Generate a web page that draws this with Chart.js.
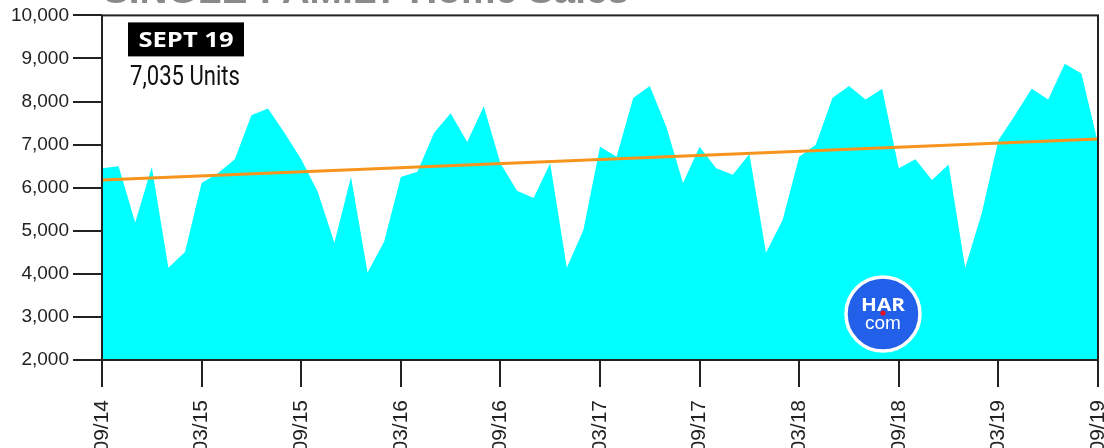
<!DOCTYPE html>
<html>
<head>
<meta charset="utf-8">
<script src="https://cdn.jsdelivr.net/npm/chart.js@4/dist/chart.umd.min.js"></script>
<style>
  html, body { margin: 0; padding: 0; background: #fff; }
  #wrap { width: 1104px; height: 448px; position: relative; }
</style>
</head>
<body>
<div id="wrap"><canvas id="c" width="1104" height="448"></canvas></div>
<script>
// Monthly single-family home sales, Sept 2014 - Sept 2019
const months = [
  '09/14','10/14','11/14','12/14',
  '01/15','02/15','03/15','04/15','05/15','06/15','07/15','08/15','09/15','10/15','11/15','12/15',
  '01/16','02/16','03/16','04/16','05/16','06/16','07/16','08/16','09/16','10/16','11/16','12/16',
  '01/17','02/17','03/17','04/17','05/17','06/17','07/17','08/17','09/17','10/17','11/17','12/17',
  '01/18','02/18','03/18','04/18','05/18','06/18','07/18','08/18','09/18','10/18','11/18','12/18',
  '01/19','02/19','03/19','04/19','05/19','06/19','07/19','08/19','09/19'
];
const sales = [
  6450, 6500, 5190, 6480,
  4140, 4510, 6110, 6340, 6660, 7680, 7840, 7270, 6660, 5900, 4720, 6250,
  4030, 4750, 6250, 6370, 7270, 7730, 7060, 7890, 6570, 5930, 5760, 6570,
  4140, 5020, 6950, 6720, 8080, 8360, 7410, 6110, 6950, 6450, 6300, 6780,
  4490, 5250, 6720, 7000, 8080, 8360, 8050, 8300, 6450, 6660, 6180, 6540,
  4140, 5410, 7100, 7680, 8300, 8050, 8880, 8650, 7035
];
// Trend line end values (first and last month)
const trendStart = 6180;
const trendEnd = 7130;
const yTicks = [2000, 3000, 4000, 5000, 6000, 7000, 8000, 9000, 10000];

const chartTitle = 'SINGLE-FAMILY Home Sales';
const badgeText = 'SEPT 19';
const lastIdx = sales.length - 1;
const unitsText = sales[lastIdx].toLocaleString('en-US') + ' Units';

const trend = months.map((_, i) => i === 0 ? trendStart : (i === lastIdx ? trendEnd : null));

const INK = '#222';

// draws text squeezed horizontally to a given width
function fitText(ctx, text, x, y, width, align) {
  const w = ctx.measureText(text).width;
  const k = width / w;
  ctx.save();
  ctx.translate(x, y);
  ctx.scale(k, 1);
  ctx.textAlign = align;
  ctx.fillText(text, 0, 0);
  ctx.restore();
}

const decorations = {
  id: 'decorations',
  beforeDraw(chart) {
    const ctx = chart.ctx;
    ctx.save();
    ctx.fillStyle = '#fff';
    ctx.fillRect(0, 0, chart.width, chart.height);
    // heading, running off the top edge
    ctx.fillStyle = '#8a8a8a';
    ctx.font = 'bold 38px "Liberation Sans", Arial, sans-serif';
    ctx.textBaseline = 'alphabetic';
    fitText(ctx, chartTitle, 103, 2.5, 526, 'left');
    ctx.restore();
  },
  afterDatasetsDraw(chart) {
    const ctx = chart.ctx;
    const a = chart.chartArea;
    ctx.save();
    // plot frame
    ctx.strokeStyle = INK;
    ctx.lineWidth = 2;
    ctx.strokeRect(a.left, a.top, a.right - a.left, a.bottom - a.top);

    // month badge
    ctx.fillStyle = '#000';
    ctx.fillRect(a.left + 26, a.top + 7, 116, 34);
    ctx.fillStyle = '#fff';
    ctx.font = 'bold 21px "Open Sans", "Liberation Sans", sans-serif';
    ctx.textBaseline = 'alphabetic';
    fitText(ctx, badgeText, a.left + 84, a.top + 32, 95, 'center');

    // latest value
    ctx.fillStyle = '#111';
    ctx.font = '28px "Roboto", "Liberation Sans", sans-serif';
    fitText(ctx, unitsText, a.left + 28, a.top + 70, 110, 'left');

    // HAR.com mark
    const cx = 883, cy = 314, r = 37;
    ctx.beginPath();
    ctx.arc(cx, cy, r, 0, Math.PI * 2);
    ctx.fillStyle = '#2360ea';
    ctx.fill();
    ctx.lineWidth = 3.5;
    ctx.strokeStyle = '#fff';
    ctx.stroke();
    ctx.fillStyle = '#fff';
    ctx.font = 'bold 18px "Open Sans", "Liberation Sans", sans-serif';
    fitText(ctx, 'HAR', cx, cy - 3, 44, 'center');
    ctx.font = '19px "Liberation Sans", Arial, sans-serif';
    ctx.textAlign = 'center';
    ctx.fillText('com', cx, cy + 15);
    ctx.beginPath();
    ctx.arc(cx, cy - 1, 2.6, 0, Math.PI * 2);
    ctx.fillStyle = '#e8101e';
    ctx.fill();
    ctx.restore();
  }
};

new Chart(document.getElementById('c'), {
  type: 'line',
  data: {
    labels: months,
    datasets: [
      {
        label: 'Trend',
        data: trend,
        borderColor: '#f7941d',
        borderWidth: 3,
        pointRadius: 0,
        spanGaps: true,
        fill: false,
        order: 0
      },
      {
        label: 'Sales',
        data: sales,
        backgroundColor: '#00ffff',
        borderColor: '#00ffff',
        borderWidth: 0,
        pointRadius: 0,
        tension: 0,
        fill: 'start',
        order: 1
      }
    ]
  },
  options: {
    responsive: false,
    animation: false,
    layout: { padding: { top: 15, right: 6, left: 0, bottom: 0 } },
    plugins: {
      legend: { display: false },
      tooltip: { enabled: false },
      title: { display: false }
    },
    scales: {
      x: {
        type: 'category',
        offset: false,
        border: { display: false },
        grid: {
          drawOnChartArea: false,
          drawTicks: true,
          tickLength: 27,
          color: INK,
          lineWidth: 2
        },
        ticks: {
          autoSkip: false,
          minRotation: 90,
          maxRotation: 90,
          padding: 13,
          color: INK,
          font: { family: '"Liberation Sans", Arial, sans-serif', size: 21 },
          callback(value, index) {
            return index % 6 === 0 ? months[index] : null;
          }
        },
        afterFit(scale) {
          scale.height = 88;
          scale.paddingLeft = 0;
          scale.paddingRight = 0;
        }
      },
      y: {
        min: yTicks[0],
        max: yTicks[yTicks.length - 1],
        border: { display: false },
        grid: {
          drawOnChartArea: false,
          drawTicks: true,
          tickLength: 29,
          color: INK,
          lineWidth: 2
        },
        afterBuildTicks(scale) {
          scale.ticks = yTicks.map(v => ({ value: v }));
        },
        ticks: {
          padding: 4,
          color: INK,
          font: { family: '"Liberation Sans", Arial, sans-serif', size: 19 },
          callback(value) { return value.toLocaleString('en-US'); }
        },
        afterFit(scale) {
          scale.width = 102;
        }
      }
    }
  },
  plugins: [decorations]
});
</script>
</body>
</html>
